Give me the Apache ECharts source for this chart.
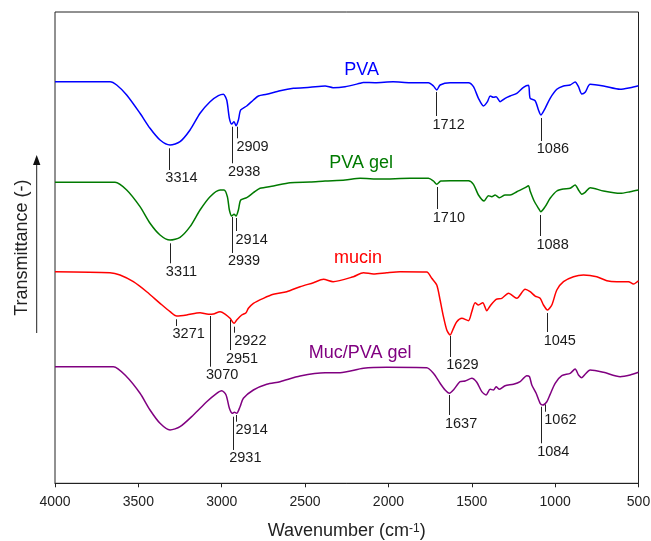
<!DOCTYPE html>
<html>
<head>
<meta charset="utf-8">
<script src="https://cdn.jsdelivr.net/npm/echarts@6/dist/echarts.min.js"></script>
<style>
html,body{margin:0;padding:0;background:#fff;}
#chart{width:651px;height:541px;}
</style>
</head>
<body>
<div id="chart"></div>
<script>
// ---- Data (wavenumber in cm-1, transmittance in arbitrary offset units) ----
const wnPVA = [4000,3670,3630,3570,3490,3430,3370,3310,3250,3190,3130,3070,3020,2990,2970,2954,2940,2926,2914,2900,2886,2850,2810,2780,2730,2650,2570,2470,2380,2332,2260,2170,2152,2080,1972,1870,1760,1730,1710,1690,1630,1520,1490,1460,1430,1406,1390,1370,1354,1330,1300,1270,1230,1190,1160,1150,1120,1100,1086,1060,1030,990,950,910,880,860,840,820,790,710,610,550,500];
const tPVA = [85.21,85.21,84.51,82.39,78.51,75.32,72.84,71.78,72.48,74.96,78.51,80.97,82.24,82.54,81.33,77.45,76.24,76.72,75.88,77.08,79.21,80.06,81.33,82.18,82.54,83.30,83.81,84.02,84.30,83.94,84.15,84.87,85.04,85.00,85.21,85.00,85.00,84.30,83.45,84.51,85.00,85.00,84.15,81.69,80.06,80.97,82.18,81.90,82.03,80.97,81.69,82.18,82.75,84.02,84.45,81.69,81.18,79.21,78.15,79.57,81.69,83.60,84.30,84.51,85.15,84.15,82.60,82.96,84.66,84.30,83.60,83.94,84.36];

const wnPVAgel = [4000,3640,3570,3490,3430,3370,3310,3250,3190,3130,3070,3010,2986,2966,2954,2940,2926,2914,2900,2886,2850,2810,2770,2690,2590,2470,2380,2260,2170,2050,1870,1760,1730,1710,1686,1630,1520,1490,1460,1426,1400,1380,1360,1334,1300,1270,1230,1180,1160,1150,1126,1100,1086,1060,1030,990,950,910,880,860,840,820,790,710,610,550,500];
const tPVAgel = [63.87,63.87,62.23,58.69,55.17,52.69,51.62,52.20,54.45,57.99,60.81,62.23,62.23,60.81,57.99,56.72,57.08,56.72,57.99,60.11,60.60,61.66,62.59,63.08,63.78,63.93,64.14,64.35,64.71,64.57,64.71,64.71,64.14,63.44,64.14,64.21,64.21,63.44,61.17,59.90,61.02,60.81,61.17,60.60,61.17,61.17,61.87,62.72,63.15,62.02,59.90,58.35,57.63,58.69,60.47,62.02,62.44,62.59,63.29,62.23,61.32,61.74,62.72,62.02,61.53,61.87,62.23];

const wnMucin = [4000,3670,3610,3530,3450,3370,3310,3270,3210,3130,3080,3050,3010,2980,2950,2926,2910,2880,2854,2840,2810,2750,2690,2610,2530,2450,2390,2332,2210,2150,2090,2010,1930,1770,1740,1710,1690,1670,1650,1630,1610,1590,1560,1520,1500,1480,1460,1434,1410,1390,1354,1320,1280,1230,1180,1150,1120,1090,1070,1046,1020,990,950,890,830,750,690,630,560,530,500];
const tMucin = [44.90,44.69,44.20,42.78,40.65,38.19,36.41,35.50,35.71,36.20,35.86,35.92,36.41,35.92,35.01,33.95,34.65,35.71,36.20,37.13,38.19,39.25,40.10,40.65,41.71,42.56,43.28,42.78,43.84,44.69,44.41,44.69,44.90,44.83,43.50,42.08,38.89,35.35,32.53,31.47,32.89,34.29,35.01,34.50,36.41,38.32,37.83,38.32,36.62,37.62,39.04,39.25,40.31,39.25,41.16,40.65,39.74,39.25,37.83,36.77,37.83,41.01,42.78,43.84,44.20,43.84,42.99,42.78,42.78,42.29,42.99];

const wnMucPVA = [4000,3650,3570,3490,3430,3370,3310,3250,3170,3090,3030,3000,2974,2954,2936,2924,2910,2890,2870,2810,2730,2650,2530,2380,2290,2150,2010,1770,1730,1690,1660,1634,1610,1570,1540,1500,1470,1440,1414,1390,1370,1354,1334,1300,1250,1210,1170,1154,1140,1114,1090,1074,1050,1030,1000,960,910,880,860,840,820,790,710,610,550,500];
const tMucPVA = [24.74,24.74,22.62,19.10,15.55,12.73,11.31,12.01,14.49,17.31,19.10,19.65,18.74,15.91,14.85,15.06,14.85,16.25,18.04,19.80,21.01,21.56,22.77,23.47,23.47,24.40,24.61,24.53,23.34,21.22,19.80,19.10,19.80,21.56,21.71,22.28,21.43,19.44,18.74,19.95,19.80,20.50,19.95,20.71,21.01,21.56,22.83,22.62,20.86,19.10,16.97,16.61,17.31,18.88,21.22,22.83,23.34,24.25,22.98,22.41,23.13,24.04,23.55,22.62,22.98,23.55];

// Peak annotations
const peakLabels = ['3314','2938','2909','1712','1086','3311','2939','2914','1710','1088','3271','3070','2951','2922','1629','1045','2914','2931','1637','1062','1084'];
const peakWn = [3314,2938,2909,1712,1086,3311,2939,2914,1710,1088,3271,3070,2951,2922,1629,1045,2914,2931,1637,1062,1084];
const peakTop = [71.08,75.66,75.66,83.03,77.51,50.92,56.50,56.29,62.87,56.93,34.80,35.50,34.65,33.23,31.25,36.13,14.49,14.13,18.74,16.72,16.25];
const peakBottom = [66.48,67.90,73.20,77.93,72.63,46.68,48.87,53.53,58.20,52.47,33.38,24.74,28.28,31.95,26.80,32.10,13.07,7.07,14.49,15.19,8.49];
const peakInner = [false,false,true,false,false,false,false,true,false,false,false,false,false,true,false,false,true,false,false,true,false];

// Series names and their label anchors
const seriesNames = ['PVA','PVA gel','mucin','Muc/PVA gel'];
const seriesColors = ['#0000ff','#007a00','#ff0000','#800080'];
const nameWn = [2161,2164,2182,2170];
const nameT = [87.69,67.96,47.80,27.65];

const xTicks = {min:500, max:4000, interval:500};

// ---- Build chart ----
const FONT = 'Liberation Sans, Arial, sans-serif';
const pairs = (xs, ys) => xs.map((x, i) => [x, ys[i]]);
const curves = [pairs(wnPVA,tPVA), pairs(wnPVAgel,tPVAgel), pairs(wnMucin,tMucin), pairs(wnMucPVA,tMucPVA)];

const chart = echarts.init(document.getElementById('chart'), null, {renderer:'canvas'});

const lineSeries = curves.map((d, i) => ({
  name: seriesNames[i],
  type: 'line',
  data: d,
  showSymbol: false,
  symbol: 'none',
  smooth: 0.25,
  lineStyle: {color: seriesColors[i], width: 1.5, opacity: 1},
  itemStyle: {color: seriesColors[i], opacity: 1},
  z: 3
}));

const option = {
  animation: false,
  backgroundColor: '#ffffff',
  grid: {left:55, right:12.5, top:12, bottom:57.7, show:true, borderColor:'#222', borderWidth:1, backgroundColor:'transparent', containLabel:false, outerBoundsMode:'none'},
  xAxis: {
    type: 'value', min: xTicks.min, max: xTicks.max, interval: xTicks.interval, inverse: true,
    axisLine: {show:true, lineStyle:{color:'#222', width:1}},
    axisTick: {show:true, inside:false, length:4, lineStyle:{color:'#222', width:1}},
    splitLine: {show:false},
    axisLabel: {fontSize:14, color:'#222', margin:12, fontFamily:FONT, showMinLabel:true, showMaxLabel:true,
                formatter: v => String(v)},
    name: 'Wavenumber (cm{sup|-1})',
    nameLocation: 'middle',
    nameGap: 39,
    nameTextStyle: {fontSize:18, color:'#222', fontFamily:FONT, rich:{sup:{fontSize:12, color:'#222', fontFamily:FONT, verticalAlign:'top', lineHeight:12}}}
  },
  yAxis: {
    type: 'value', min: 0, max: 100,
    axisLine: {show:false}, axisTick: {show:false}, axisLabel: {show:false}, splitLine: {show:false},
    name: 'Transmittance (-)',
    nameLocation: 'middle',
    nameGap: 24,
    nameTextStyle: {fontSize:18, color:'#222', fontFamily:FONT}
  },
  graphic: [
    {type:'line', shape:{x1:36.7, y1:333, x2:36.7, y2:162}, style:{stroke:'#222', lineWidth:1}, silent:true},
    {type:'polygon', shape:{points:[[36.7,155],[33,165],[40.4,165]]}, style:{fill:'#111'}, silent:true}
  ],
  series: lineSeries.concat([
    {
      type: 'scatter',
      symbolSize: 0,
      silent: true,
      itemStyle: {opacity: 1},
      data: peakWn.map((w, i) => ({value:[w, peakBottom[i]], label:{offset:[peakInner[i] ? -0.5 : -4, 0]}})),
      label: {show:true, opacity:1, position:'bottom', distance:1, align:'left', fontSize:14.5, color:'#1a1a1a', fontFamily:FONT,
              formatter: p => peakLabels[p.dataIndex]},
      markLine: {
        silent: true, animation: false, symbol: ['none','none'],
        lineStyle: {color:'#222', width:1, type:'solid', opacity:1},
        label: {show:false},
        emphasis: {disabled:true},
        data: peakWn.map((w, i) => [{coord:[w, peakTop[i]]}, {coord:[w, peakBottom[i]]}])
      },
      z: 4
    },
    {
      type: 'scatter',
      symbolSize: 0,
      silent: true,
      itemStyle: {opacity: 1},
      data: nameWn.map((w, i) => ({value:[w, nameT[i]], label:{color: seriesColors[i]}})),
      label: {show:true, opacity:1, position:'inside', fontSize:18, fontFamily:FONT, formatter: p => seriesNames[p.dataIndex]},
      z: 4
    }
  ])
};
chart.setOption(option);
</script>
</body>
</html>
